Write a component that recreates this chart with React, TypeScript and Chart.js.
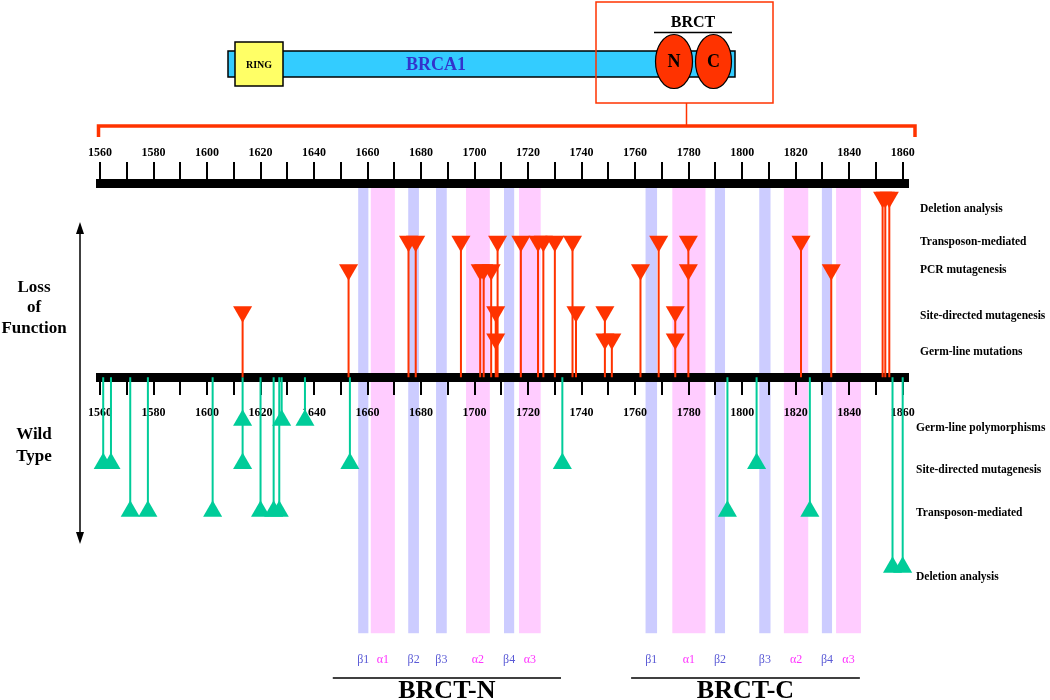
import React, { useEffect, useRef } from 'react';
import { Chart, registerables } from 'chart.js';

Chart.register(...registerables);

// ---------- DATA ----------
// residue axis
const RESIDUE_MIN = 1560;
const RESIDUE_MAX = 1861.8;
const TICK_STEP = 10;
const LABEL_STEP = 20;

// Loss of function (residue numbers)
const lossDeletion = [1852.5, 1853.5, 1855];
const lossTransposon = [1675.3, 1678, 1694.9, 1708.6, 1717.3, 1723.7, 1725.7, 1730, 1736.6, 1768.8, 1779.9, 1822];
const lossPCR = [1652.9, 1702.1, 1703.4, 1706.2, 1762, 1779.9, 1833.3];
const lossSiteDirected = [1613.3, 1707.9, 1737.9, 1748.7, 1775];
const lossGermline = [1707.9, 1748.7, 1751.3, 1775];

// Wild type (residue numbers)
const wtPolymorphism = [1613.3, 1627.9, 1636.6];
const wtSiteDirected = [1561.2, 1564.1, 1613.3, 1653.4, 1732.8, 1805.4];
const wtTransposon = [1571.3, 1577.9, 1602.1, 1620, 1624.9, 1627, 1794.5, 1825.3];
const wtDeletion = [1856.2, 1860];

const lossRowNames = ['Deletion analysis', 'Transposon-mediated', 'PCR mutagenesis', 'Site-directed mutagenesis', 'Germ-line mutations'];
const wtRowNames = ['Germ-line polymorphisms', 'Site-directed mutagenesis', 'Transposon-mediated', 'Deletion analysis'];

// secondary structure elements
const structNames = ['β1', 'α1', 'β2', 'β3', 'α2', 'β4', 'α3'];
const structStartN = [1656.5, 1661.2, 1675.2, 1685.6, 1696.8, 1711.0, 1716.6];
const structEndN = [1660.3, 1670.2, 1679.2, 1689.6, 1705.7, 1714.8, 1724.7];
const structStartC = [1763.9, 1773.9, 1789.8, 1806.4, 1815.6, 1829.8, 1835.1];
const structEndC = [1768.2, 1786.3, 1793.6, 1810.6, 1824.7, 1833.6, 1844.4];

const domainNames = ['BRCT-N', 'BRCT-C'];
const domainStart = [1647, 1758.5];
const domainEnd = [1732.3, 1844];

// ---------- LAYOUT / STYLE ----------
const W = 1050;
const H = 700;
const Y_MIN = 183.5;
const Y_MAX = 700;
const AXIS_TRACK = 381.5;
const LOSS_TRACKS = [197.5, 242.5, 271.5, 314.5, 342.5];
const WT_TRACKS = [425.5, 469.5, 518.5, 575.5];
const LOSS_LABEL_Y = [209, 242, 270, 316, 352];
const WT_LABEL_Y = [428, 470, 513, 577];
const BAND_BOTTOM = 643;
const RED = '#ff3300';
const GREEN = '#00cc99';
const BLUE_BAND = '#ccccff';
const PINK_BAND = '#ffccff';
const SERIF = '"Liberation Serif", "Times New Roman", serif';

const lossRows = [lossDeletion, lossTransposon, lossPCR, lossSiteDirected, lossGermline];
const wtRows = [wtPolymorphism, wtSiteDirected, wtTransposon, wtDeletion];

function markerPoints(rows: number[][], tracks: number[]) {
  const pts: { x: number; y: number }[] = [];
  rows.forEach((row, i) => row.forEach((r) => pts.push({ x: r, y: tracks[i] })));
  return pts;
}

function stemPoints(rows: number[][], tracks: number[]) {
  const pts: { x: number; y: number | null }[] = [];
  rows.forEach((row, i) =>
    row.forEach((r) => {
      pts.push({ x: r, y: AXIS_TRACK }, { x: r, y: tracks[i] }, { x: r, y: null });
    })
  );
  return pts;
}

const tickCallback = (v: any) => (Math.round(Number(v)) % LABEL_STEP === 0 ? String(Math.round(Number(v))) : '');

const decorPlugin = {
  id: 'decor',
  beforeDraw(chart: any) {
    const ctx = chart.ctx;
    const xs = chart.scales.x;
    const ys = chart.scales.y;
    ctx.save();
    ctx.fillStyle = '#ffffff';
    ctx.fillRect(0, 0, W, H);
    const top = chart.chartArea.top;
    const bottom = ys.getPixelForValue(BAND_BOTTOM);
    const drawBands = (starts: number[], ends: number[]) => {
      starts.forEach((s, i) => {
        const x1 = xs.getPixelForValue(s);
        const x2 = xs.getPixelForValue(ends[i]);
        ctx.fillStyle = structNames[i].startsWith('β') ? BLUE_BAND : PINK_BAND;
        ctx.fillRect(x1, top, x2 - x1, bottom - top);
      });
    };
    drawBands(structStartN, structEndN);
    drawBands(structStartC, structEndC);
    ctx.restore();
  },
  afterDraw(chart: any) {
    const ctx = chart.ctx;
    const xs = chart.scales.x;
    ctx.save();

    // ---- protein overview ----
    ctx.fillStyle = '#33ccff';
    ctx.fillRect(228, 51, 507, 26);
    ctx.strokeStyle = '#000';
    ctx.lineWidth = 1.5;
    ctx.strokeRect(228, 51, 507, 26);

    ctx.fillStyle = '#ffff66';
    ctx.fillRect(235, 42, 48, 44);
    ctx.strokeRect(235, 42, 48, 44);
    ctx.fillStyle = '#000';
    ctx.textAlign = 'center';
    ctx.textBaseline = 'middle';
    ctx.font = `bold 10px ${SERIF}`;
    ctx.fillText('RING', 259, 65);

    ctx.fillStyle = '#3333cc';
    ctx.font = `bold 18px ${SERIF}`;
    ctx.fillText('BRCA1', 436, 65);

    const ellipse = (cx: number, cy: number, rx: number, ry: number, t: string) => {
      ctx.beginPath();
      ctx.ellipse(cx, cy, rx, ry, 0, 0, Math.PI * 2);
      ctx.fillStyle = RED;
      ctx.fill();
      ctx.strokeStyle = '#000';
      ctx.lineWidth = 1.2;
      ctx.stroke();
      ctx.fillStyle = '#000';
      ctx.font = `bold 18px ${SERIF}`;
      ctx.fillText(t, cx, cy + 1);
    };
    ellipse(674, 61.5, 18.5, 27, 'N');
    ellipse(713.5, 61.5, 18, 27, 'C');

    ctx.fillStyle = '#000';
    ctx.font = `bold 16px ${SERIF}`;
    ctx.fillText('BRCT', 693, 23);
    ctx.beginPath();
    ctx.lineWidth = 1.5;
    ctx.moveTo(654, 32.5);
    ctx.lineTo(732, 32.5);
    ctx.stroke();

    // zoom frame and bracket
    ctx.strokeStyle = RED;
    ctx.lineWidth = 1.5;
    ctx.strokeRect(596, 2, 177, 101);
    ctx.beginPath();
    ctx.moveTo(686.5, 103);
    ctx.lineTo(686.5, 126);
    ctx.stroke();
    ctx.lineWidth = 3.5;
    ctx.beginPath();
    ctx.moveTo(98.5, 137);
    ctx.lineTo(98.5, 126);
    ctx.lineTo(915, 126);
    ctx.lineTo(915, 137);
    ctx.stroke();

    // ---- right row labels ----
    ctx.fillStyle = '#000';
    ctx.textAlign = 'left';
    ctx.font = `bold 11.5px ${SERIF}`;
    lossRowNames.forEach((n, i) => ctx.fillText(n, 920, LOSS_LABEL_Y[i]));
    wtRowNames.forEach((n, i) => ctx.fillText(n, 916, WT_LABEL_Y[i]));

    // ---- left labels and arrow ----
    ctx.textAlign = 'center';
    ctx.font = `bold 17px ${SERIF}`;
    ctx.fillText('Loss', 34, 288);
    ctx.fillText('of', 34, 308);
    ctx.fillText('Function', 34, 329);
    ctx.fillText('Wild', 34, 435);
    ctx.fillText('Type', 34, 457);

    ctx.strokeStyle = '#000';
    ctx.lineWidth = 1.5;
    ctx.beginPath();
    ctx.moveTo(80, 228);
    ctx.lineTo(80, 538);
    ctx.stroke();
    ctx.beginPath();
    ctx.moveTo(80, 222);
    ctx.lineTo(76, 234);
    ctx.lineTo(84, 234);
    ctx.closePath();
    ctx.fill();
    ctx.beginPath();
    ctx.moveTo(80, 544);
    ctx.lineTo(76, 532);
    ctx.lineTo(84, 532);
    ctx.closePath();
    ctx.fill();

    // ---- structure labels ----
    ctx.font = `12px ${SERIF}`;
    ctx.textBaseline = 'middle';
    const drawStructLabels = (starts: number[], ends: number[]) => {
      starts.forEach((s, i) => {
        const cx = xs.getPixelForValue((s + ends[i]) / 2);
        ctx.fillStyle = structNames[i].startsWith('β') ? '#5b5bd6' : '#ff33ff';
        ctx.fillText(structNames[i], cx, 660);
      });
    };
    drawStructLabels(structStartN, structEndN);
    drawStructLabels(structStartC, structEndC);

    // ---- domain lines ----
    ctx.fillStyle = '#000';
    ctx.strokeStyle = '#000';
    ctx.lineWidth = 1.5;
    ctx.font = `bold 26px ${SERIF}`;
    ctx.textBaseline = 'alphabetic';
    domainNames.forEach((n, i) => {
      const x1 = xs.getPixelForValue(domainStart[i]);
      const x2 = xs.getPixelForValue(domainEnd[i]);
      ctx.beginPath();
      ctx.moveTo(x1, 678);
      ctx.lineTo(x2, 678);
      ctx.stroke();
      ctx.fillText(n, (x1 + x2) / 2, 698);
    });

    ctx.restore();
  },
};

const axisCommon = (tickLength: number, padding: number) => ({
  type: 'linear' as const,
  axis: 'x' as const,
  min: RESIDUE_MIN,
  max: RESIDUE_MAX,
  grid: { drawOnChartArea: false, drawTicks: true, tickLength, color: '#000', lineWidth: 2 },
  border: { display: true, width: 9, color: '#000' },
  ticks: {
    stepSize: TICK_STEP,
    autoSkip: false,
    includeBounds: false,
    maxRotation: 0,
    minRotation: 0,
    padding,
    color: '#000',
    font: { family: SERIF, size: 12, weight: 'bold' as const },
    callback: tickCallback,
  },
});

export default function App() {
  const ref = useRef<HTMLCanvasElement | null>(null);
  useEffect(() => {
    if (!ref.current) return;
    const chart = new Chart(ref.current, {
      type: 'scatter',
      data: {
        datasets: [
          {
            type: 'scatter',
            label: 'Loss of function',
            data: markerPoints(lossRows, LOSS_TRACKS),
            pointStyle: 'triangle',
            pointRotation: 180,
            pointRadius: 11,
            pointBackgroundColor: RED,
            pointBorderWidth: 0,
            backgroundColor: RED,
            borderWidth: 0,
            xAxisID: 'x',
            yAxisID: 'y',
            clip: false,
            order: 0,
          } as any,
          {
            type: 'scatter',
            label: 'Wild type',
            data: markerPoints(wtRows, WT_TRACKS),
            pointStyle: 'triangle',
            pointRotation: 0,
            pointRadius: 11,
            pointBackgroundColor: GREEN,
            pointBorderWidth: 0,
            backgroundColor: GREEN,
            borderWidth: 0,
            xAxisID: 'x',
            yAxisID: 'y',
            clip: false,
            order: 0,
          } as any,
          {
            type: 'line',
            label: 'Loss stems',
            data: stemPoints(lossRows, LOSS_TRACKS),
            borderColor: RED,
            borderWidth: 2,
            pointRadius: 0,
            spanGaps: false,
            tension: 0,
            fill: false,
            xAxisID: 'x',
            yAxisID: 'y',
            clip: false,
            order: 1,
          } as any,
          {
            type: 'line',
            label: 'Wild stems',
            data: stemPoints(wtRows, WT_TRACKS),
            borderColor: GREEN,
            borderWidth: 2,
            pointRadius: 0,
            spanGaps: false,
            tension: 0,
            fill: false,
            xAxisID: 'x',
            yAxisID: 'y',
            clip: false,
            order: 1,
          } as any,
        ],
      },
      options: {
        responsive: false,
        animation: false,
        devicePixelRatio: 1,
        events: [],
        layout: { padding: { left: 100, right: 142.5, top: 143.6, bottom: 0 } },
        plugins: {
          legend: { display: false },
          tooltip: { enabled: false },
          title: { display: false },
        },
        scales: {
          x: { ...axisCommon(13, 15), position: { y: AXIS_TRACK } } as any,
          xTop: { ...axisCommon(21.5, 2), position: 'top' } as any,
          y: { type: 'linear', display: false, min: Y_MIN, max: Y_MAX, reverse: true },
        },
      },
      plugins: [decorPlugin],
    });
    return () => chart.destroy();
  }, []);
  return (
    <div style={{ position: 'fixed', left: 0, top: 0, width: W, height: H, background: '#fff' }}>
      <canvas ref={ref} width={W} height={H} style={{ display: 'block' }} />
    </div>
  );
}
